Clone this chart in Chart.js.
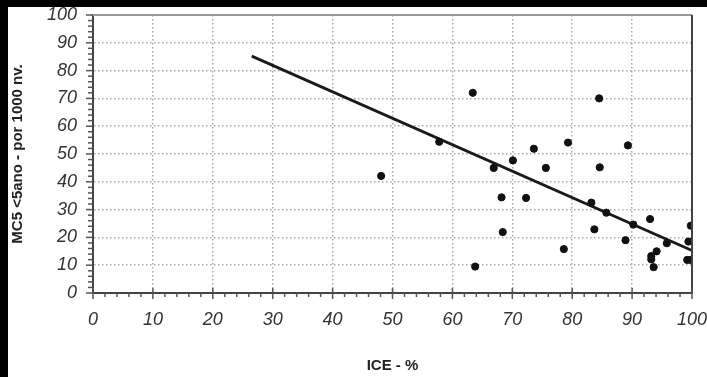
<!DOCTYPE html>
<html>
<head>
<meta charset="utf-8">
<script src="https://cdn.jsdelivr.net/npm/chart.js@4/dist/chart.umd.min.js"></script>
<style>
  html, body { margin: 0; padding: 0; background: #fff; }
  #wrap { width: 707px; height: 377px; }
</style>
</head>
<body>
<div id="wrap"><canvas id="scatterChart" width="707" height="377"></canvas></div>
<script>
// ICE (%) vs MC5 (<5 anos por 1000 nv.)
const iceValues = [63.4, 84.5, 57.8, 79.3, 89.3, 73.6, 70.1, 66.9, 75.6, 84.6, 68.2, 72.3, 83.2, 85.7, 93.0, 90.2,
  99.8, 83.7, 68.4, 88.9, 99.4, 95.8, 78.6, 94.1, 93.2, 93.2, 99.2, 99.8, 63.8, 93.6, 48.1];
const mc5Values = [72.0, 70.0, 54.4, 54.1, 53.1, 51.9, 47.7, 45.0, 45.0, 45.2, 34.4, 34.2, 32.5, 28.9, 26.6, 24.6,
  24.2, 22.9, 21.9, 19.0, 18.5, 17.9, 15.8, 15.0, 13.3, 12.1, 11.9, 11.9, 9.5, 9.3, 42.1];

// regression line end points
const trendX = [26.5, 100];
const trendY = [85.2, 15.3];

const xTickLabels = ["0", "10", "20", "30", "40", "50", "60", "70", "80", "90", "100"];
const yTickLabels = ["0", "10", "20", "30", "40", "50", "60", "70", "80", "90", "100"];

const points = iceValues.map((x, i) => ({ x: x, y: mc5Values[i] }));
const trend = trendX.map((x, i) => ({ x: x, y: trendY[i] }));

// black frame strips + white background
const framePlugin = {
  id: "frame",
  beforeDraw(chart) {
    const { ctx, width, height } = chart;
    ctx.save();
    ctx.fillStyle = "#fff";
    ctx.fillRect(0, 0, width, height);
    ctx.fillStyle = "#000";
    ctx.fillRect(0, 0, width, 7);
    ctx.fillRect(0, 0, 8, height);
    ctx.restore();
  },
};

// minor/major tick marks and top/right border
const ticksPlugin = {
  id: "minorTicks",
  afterDraw(chart) {
    const { ctx, chartArea: a } = chart;
    const xs = chart.scales.x;
    const ys = chart.scales.y;
    ctx.save();
    ctx.lineWidth = 2;
    ctx.strokeStyle = "#999";
    ctx.beginPath();
    ctx.moveTo(a.left, a.top);
    ctx.lineTo(a.right, a.top);
    ctx.stroke();
    ctx.strokeStyle = "#444";
    ctx.beginPath();
    ctx.moveTo(a.right, a.top);
    ctx.lineTo(a.right, a.bottom);
    ctx.stroke();

    ctx.lineWidth = 1.5;
    ctx.strokeStyle = "#555";
    for (let v = 0; v <= 100; v += 2) {
      const major = v % 10 === 0;
      const px = xs.getPixelForValue(v);
      ctx.beginPath();
      ctx.moveTo(px, a.bottom - (major ? 5 : 0));
      ctx.lineTo(px, a.bottom + (major ? 6 : 4));
      ctx.stroke();
      const py = ys.getPixelForValue(v);
      ctx.beginPath();
      ctx.moveTo(a.left - (major ? 7 : 5), py);
      ctx.lineTo(a.left, py);
      ctx.stroke();
    }
    ctx.restore();
  },
};

const ctx = document.getElementById("scatterChart").getContext("2d");

new Chart(ctx, {
  type: "scatter",
  data: {
    datasets: [
      {
        label: "MC5",
        data: points,
        backgroundColor: "#111",
        borderColor: "#111",
        pointRadius: 3.6,
      },
      {
        type: "line",
        label: "Tendência",
        data: trend,
        borderColor: "#1a1a1a",
        borderWidth: 2.8,
        pointRadius: 0,
        fill: false,
      },
    ],
  },
  options: {
    responsive: false,
    animation: false,
    layout: { padding: { left: 0, right: 15, top: 15, bottom: 0 } },
    plugins: {
      legend: { display: false },
      tooltip: { enabled: false },
    },
    scales: {
      x: {
        type: "linear",
        min: 0,
        max: 100,
        afterBuildTicks(scale) {
          scale.ticks = xTickLabels.map((t) => ({ value: Number(t) }));
        },
        afterFit(scale) {
          scale.height = 84;
          scale.paddingLeft = 0;
          scale.paddingRight = 0;
        },
        ticks: {
          padding: 16,
          maxRotation: 0,
          autoSkip: false,
          color: "#333",
          font: { family: "Liberation Sans, Arial, sans-serif", size: 18, style: "italic" },
          callback: (v, i) => xTickLabels[i],
        },
        grid: { color: "#aaa", lineWidth: 1.5, drawTicks: false },
        border: { color: "#444", width: 2, dash: [1.5, 2.5] },
        title: {
          display: true,
          text: "ICE - %",
          color: "#222",
          padding: { top: 0, bottom: 2 },
          font: { family: "Liberation Sans, Arial, sans-serif", size: 15, weight: "bold" },
        },
      },
      y: {
        min: 0,
        max: 100,
        afterBuildTicks(scale) {
          scale.ticks = yTickLabels.map((t) => ({ value: Number(t) }));
        },
        afterFit(scale) {
          scale.width = 93;
          scale.paddingTop = 0;
          scale.paddingBottom = 0;
        },
        ticks: {
          padding: 16,
          autoSkip: false,
          color: "#333",
          font: { family: "Liberation Sans, Arial, sans-serif", size: 18, style: "italic" },
          callback: (v, i) => yTickLabels[i],
        },
        grid: { color: "#aaa", lineWidth: 1.5, drawTicks: false },
        border: { color: "#444", width: 2, dash: [1.5, 2.5] },
        title: {
          display: true,
          text: "MC5 <5ano - por 1000 nv.",
          color: "#222",
          padding: { top: 9, bottom: 0 },
          font: { family: "Liberation Sans, Arial, sans-serif", size: 15, weight: "bold" },
        },
      },
    },
  },
  plugins: [framePlugin, ticksPlugin],
});
</script>
</body>
</html>
